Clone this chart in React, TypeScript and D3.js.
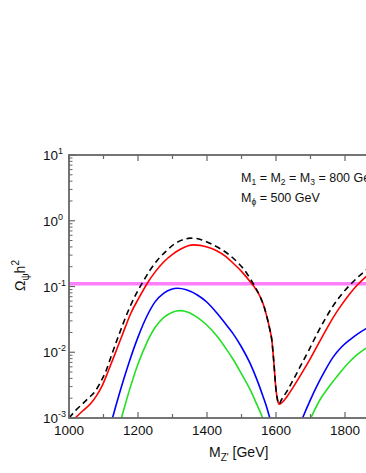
import * as d3 from 'd3'

// relic density vs Z' mass, values given as log10(Omega h^2)
const redX = [1005, 1018, 1040, 1063, 1080, 1097, 1115, 1130, 1155, 1179, 1203, 1227, 1251, 1275, 1300, 1324, 1345, 1362, 1380, 1400, 1428, 1455, 1476, 1500, 1525, 1540, 1554, 1565, 1573, 1582, 1588, 1594, 1600, 1605, 1609, 1614, 1622, 1631, 1650, 1670, 1695, 1718, 1742, 1766, 1790, 1814, 1837, 1861, 1885]
const redLog = [-3.07, -3.0, -2.89, -2.78, -2.66, -2.5, -2.27, -2.07, -1.73, -1.41, -1.17, -0.95, -0.77, -0.623, -0.51, -0.43, -0.38, -0.367, -0.375, -0.4, -0.455, -0.545, -0.647, -0.77, -0.927, -1.03, -1.155, -1.3, -1.45, -1.65, -1.82, -2.17, -2.57, -2.74, -2.79, -2.78, -2.74, -2.68, -2.53, -2.36, -2.14, -1.92, -1.69, -1.47, -1.28, -1.11, -0.97, -0.85, -0.74]

const dashX = [1000, 1020, 1040, 1060, 1075, 1090, 1106, 1125, 1150, 1175, 1195, 1212, 1235, 1256, 1280, 1304, 1330, 1351, 1370, 1389, 1411, 1440, 1465, 1490, 1510, 1525, 1540, 1554, 1565, 1573, 1582, 1588, 1594, 1600, 1605, 1609, 1615, 1631, 1650, 1670, 1695, 1718, 1742, 1766, 1790, 1814, 1837, 1861, 1885]
const dashLog = [-3.0, -2.88, -2.78, -2.68, -2.6, -2.47, -2.3, -2.02, -1.66, -1.33, -1.11, -0.95, -0.75, -0.6, -0.47, -0.36, -0.29, -0.265, -0.27, -0.3, -0.35, -0.43, -0.52, -0.64, -0.76, -0.88, -1.01, -1.155, -1.3, -1.45, -1.65, -1.82, -2.17, -2.57, -2.74, -2.79, -2.73, -2.6, -2.42, -2.22, -1.97, -1.73, -1.5, -1.29, -1.12, -0.98, -0.86, -0.75, -0.65]

const blueLX = [1118, 1126, 1150, 1175, 1200, 1225, 1250, 1275, 1295, 1315, 1340, 1372, 1400, 1428, 1457, 1476, 1500, 1525, 1545, 1563, 1575, 1583]
const blueLLog = [-3.15, -3.0, -2.56, -2.14, -1.77, -1.46, -1.23, -1.1, -1.045, -1.027, -1.05, -1.13, -1.24, -1.4, -1.59, -1.72, -1.92, -2.17, -2.42, -2.68, -2.87, -3.02]
const blueRX = [1670, 1677, 1700, 1718, 1742, 1766, 1790, 1814, 1837, 1861, 1885]
const blueRLog = [-3.09, -3.0, -2.72, -2.52, -2.28, -2.07, -1.92, -1.81, -1.72, -1.64, -1.57]

const greenLX = [1145, 1152, 1175, 1200, 1225, 1250, 1275, 1300, 1322, 1345, 1372, 1400, 1428, 1457, 1476, 1500, 1525, 1545, 1560, 1567]
const greenLLog = [-3.13, -3.0, -2.58, -2.18, -1.86, -1.62, -1.47, -1.39, -1.367, -1.39, -1.47, -1.59, -1.75, -1.96, -2.11, -2.33, -2.57, -2.8, -2.98, -3.08]
const greenRX = [1694, 1701, 1730, 1750, 1766, 1790, 1814, 1837, 1861, 1885]
const greenRLog = [-3.08, -3.0, -2.7, -2.55, -2.44, -2.28, -2.14, -2.03, -1.94, -1.86]

const planck = 0.11
const xTicks = [1000, 1200, 1400, 1600, 1800]
const yExps = [-3, -2, -1, 0, 1]

const W = 366
const H = 473
const m = { left: 69, top: 155 }
const plotW = 345
const plotH = 263
const FONT = 'Liberation Sans, Arial, sans-serif'
const AXIS = '#666'

const x = d3.scaleLinear().domain([1000, 2000]).range([m.left, m.left + plotW])
const y = d3.scaleLog().domain([1e-3, 10]).range([m.top + plotH, m.top])

const line = d3
  .line<[number, number]>()
  .x((d) => x(d[0]))
  .y((d) => y(d[1]))
  .curve(d3.curveMonotoneX)

const zip = (xs: number[], logs: number[]) => xs.map((v, i) => [v, Math.pow(10, logs[i])] as [number, number])

export default function App() {
  const bottom = m.top + plotH
  const minorX = d3.range(1000, 2001, 100)
  const minorY: number[] = []
  for (let e = -3; e < 1; e++) for (let k = 2; k <= 9; k++) minorY.push(k * Math.pow(10, e))

  const curves = [
    { d: zip(greenLX, greenLLog), c: '#22e022', dash: null },
    { d: zip(greenRX, greenRLog), c: '#22e022', dash: null },
    { d: zip(blueLX, blueLLog), c: '#0000ff', dash: null },
    { d: zip(blueRX, blueRLog), c: '#0000ff', dash: null },
    { d: zip(redX, redLog), c: '#ff0000', dash: null },
    { d: zip(dashX, dashLog), c: '#000', dash: '6,4' },
  ]

  return (
    <svg width={W} height={H} style={{ position: 'absolute', left: 0, top: 0, background: '#fff' }} fontFamily={FONT}>
      <defs>
        <clipPath id="plot">
          <rect x={m.left} y={m.top} width={plotW} height={plotH} />
        </clipPath>
      </defs>

      <g clipPath="url(#plot)">
        <line x1={m.left} x2={m.left + plotW} y1={y(planck)} y2={y(planck)} stroke="#ff80ff" strokeWidth={3.5} />
        {curves.map((cv, i) => (
          <path key={i} d={line(cv.d) || ''} fill="none" stroke={cv.c} strokeWidth={1.6} strokeDasharray={cv.dash || undefined} />
        ))}
      </g>

      {/* frame */}
      <rect x={m.left} y={m.top} width={plotW} height={plotH} fill="none" stroke={AXIS} strokeWidth={1.8} />

      {/* x ticks, bottom and top, pointing inward */}
      {minorX.map((v) => (
        <g key={v}>
          <line x1={x(v)} x2={x(v)} y1={bottom} y2={bottom - (v % 200 === 0 ? 6 : 4)} stroke={AXIS} strokeWidth={1.2} />
          <line x1={x(v)} x2={x(v)} y1={m.top} y2={m.top + (v % 200 === 0 ? 6 : 4)} stroke={AXIS} strokeWidth={1.2} />
        </g>
      ))}
      {xTicks.map((v) => (
        <text key={v} x={x(v)} y={bottom + 17} textAnchor="middle" fontSize={13.5} fill="#111">
          {v}
        </text>
      ))}

      {/* y ticks */}
      {yExps.map((e) => (
        <g key={e}>
          <line x1={m.left} x2={m.left + 6} y1={y(Math.pow(10, e))} y2={y(Math.pow(10, e))} stroke={AXIS} strokeWidth={1.2} />
          <text x={43} y={y(Math.pow(10, e)) + 5} fontSize={13.5} fill="#111">
            10
            <tspan dy={-6} fontSize={9}>
              {e}
            </tspan>
          </text>
        </g>
      ))}
      {minorY.map((v, i) => (
        <line key={i} x1={m.left} x2={m.left + 3.5} y1={y(v)} y2={y(v)} stroke={AXIS} strokeWidth={1} />
      ))}

      {/* axis titles */}
      <text x={209} y={457} fontSize={14} fill="#111">
        M<tspan dy={4} fontSize={10}>Z'</tspan>
        <tspan dy={-4}> [GeV]</tspan>
      </text>
      <text transform="translate(25,291) rotate(-90)" fontSize={14} fill="#111">
        Ω<tspan dy={4} fontSize={10}>ψ</tspan>
        <tspan dy={-4}>h</tspan>
        <tspan dy={-6} fontSize={10}>2</tspan>
      </text>

      {/* annotation, cut at the right edge as in the original */}
      <text x={241} y={182} fontSize={12.5} fill="#111">
        M<tspan dy={3} fontSize={8.5}>1</tspan>
        <tspan dy={-3}> = M</tspan>
        <tspan dy={3} fontSize={8.5}>2</tspan>
        <tspan dy={-3}> = M</tspan>
        <tspan dy={3} fontSize={8.5}>3</tspan>
        <tspan dy={-3}> = 800 GeV</tspan>
      </text>
      <text x={241} y={202} fontSize={12.5} fill="#111">
        M<tspan dy={3} fontSize={8.5}>ϕ</tspan>
        <tspan dy={-3}> = 500 GeV</tspan>
      </text>
    </svg>
  )
}
